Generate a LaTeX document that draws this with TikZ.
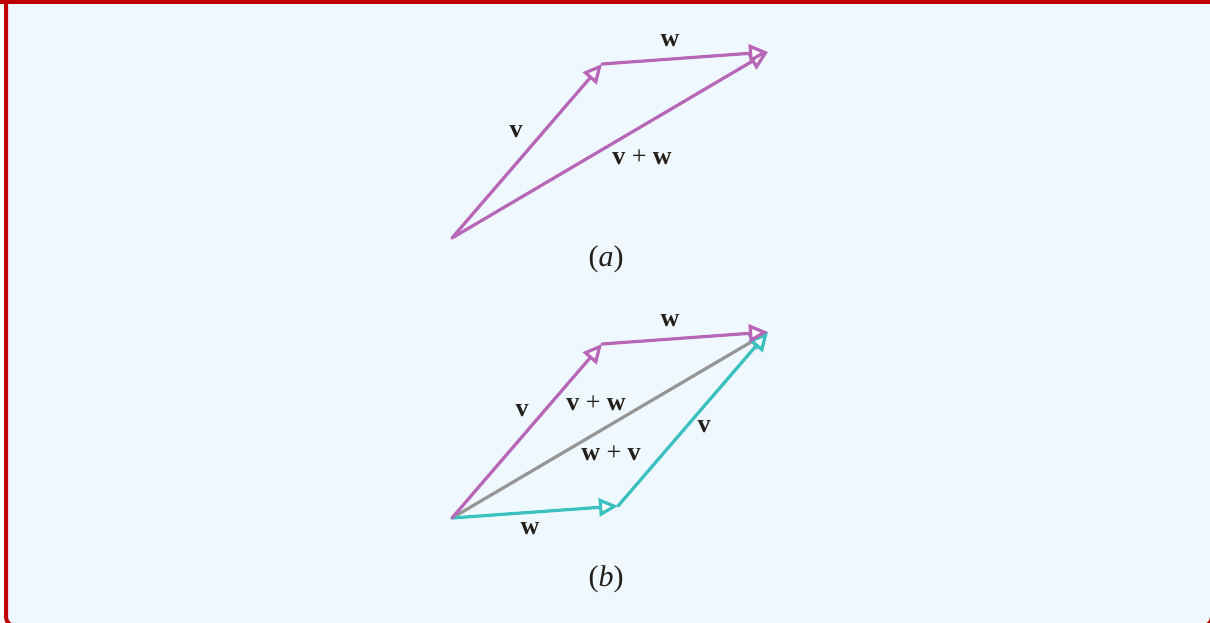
\documentclass[tikz,border=0pt]{standalone}
\usepackage{fontspec}
\setmainfont{Liberation Serif}
\usetikzlibrary{arrows.meta}
\definecolor{pinkv}{RGB}{184,102,184}
\definecolor{tealv}{RGB}{58,192,190}
\definecolor{grayv}{RGB}{150,150,150}
\definecolor{bgc}{RGB}{240,248,255}
\definecolor{framec}{RGB}{192,0,0}
\definecolor{txt}{RGB}{35,30,25}
\tikzset{
  vec/.style={line width=3.2pt, line cap=round,
    -{Triangle[length=19pt, width=18pt, fill=white, line join=miter]}},
  lbl/.style={text=txt, inner sep=0pt, font=\fontsize{26}{30}\selectfont},
  captxt/.style={text=txt, inner sep=0pt, font=\fontsize{30}{34}\selectfont},
}
\begin{document}
\begin{tikzpicture}[x=1pt,y=-1pt]
\useasboundingbox (0,0) rectangle (1210,623);
\begin{scope}
  \clip (0,0) rectangle (1210,623);
  \fill[white] (0,0) rectangle (1210,623);
  \draw[framec, fill=bgc, line width=4pt, rounded corners=9pt] (6,-12) rectangle (1212,626);
  \fill[framec] (0,0) rectangle (1210,4);
\end{scope}

% ---- (a) ----
\coordinate (Oa) at (452,238);
\coordinate (Pa) at (602,64);
\coordinate (Qa) at (768,52);
\draw[vec, pinkv] (Oa) -- (Qa);
\draw[vec, pinkv] (Oa) -- (Pa);
\draw[vec, pinkv] (Pa) -- (Qa);
\node[lbl] (la-w) at (670,41) {\textbf{w}};
\node[lbl] (la-v) at (516,132) {\textbf{v}};
\node[lbl] (la-vw) at (642,157) {\textbf{v} + \textbf{w}};
\node[captxt] (capa) at (606,259) {(\textit{a})};

% ---- (b) ----
\coordinate (Ob) at (452,518);
\coordinate (Pb) at (602,344);
\coordinate (Rb) at (618,506);
\coordinate (Qb) at (768,332);
\draw[vec, grayv] (Ob) -- (Qb);
\draw[vec, tealv] (Ob) -- (Rb);
\draw[vec, tealv] (Rb) -- (Qb);
\draw[vec, pinkv] (Ob) -- (Pb);
\draw[vec, pinkv] (Pb) -- (Qb);
\node[lbl] (lb-w1) at (670,321) {\textbf{w}};
\node[lbl] (lb-v1) at (522,411) {\textbf{v}};
\node[lbl] (lb-vw) at (596,403) {\textbf{v} + \textbf{w}};
\node[lbl] (lb-wv) at (611,453) {\textbf{w} + \textbf{v}};
\node[lbl] (lb-v2) at (704,427) {\textbf{v}};
\node[lbl] (lb-w2) at (530,529) {\textbf{w}};
\node[captxt] (capb) at (606,579) {(\textit{b})};
\end{tikzpicture}
\end{document}
